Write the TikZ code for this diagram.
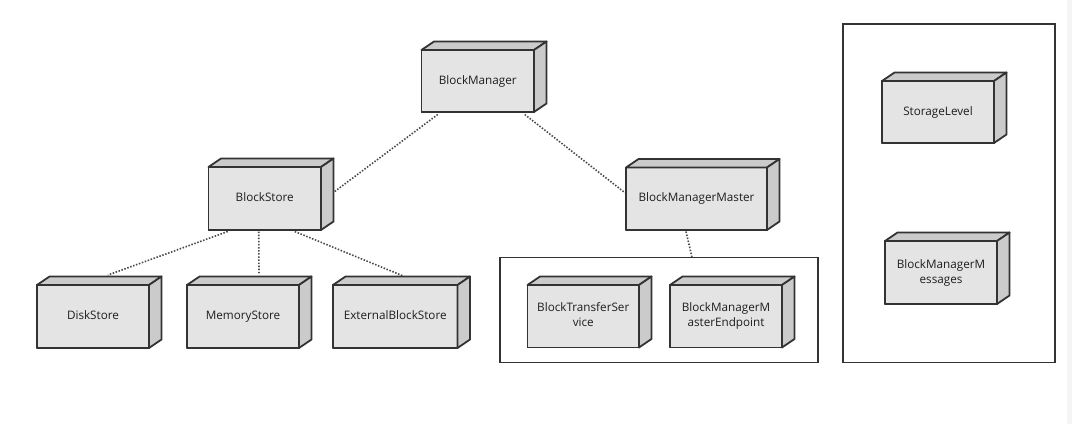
\documentclass[tikz,border=0pt]{standalone}
\usepackage{fontspec}
\setmainfont{Open Sans}
\usetikzlibrary{calc}
\definecolor{frontc}{HTML}{E4E4E4}
\definecolor{sidec}{HTML}{CBCBCB}
\definecolor{edgec}{HTML}{333333}
\definecolor{linkc}{HTML}{4A4A4A}
\definecolor{txtc}{HTML}{1E1E1E}
\tikzset{
  front/.style={draw=edgec, fill=frontc, line width=1.8pt, rectangle, outer sep=0pt,
    inner sep=0pt, align=center, text=txtc, font=\fontsize{11.7}{15}\selectfont,
    line join=round},
  sideface/.style={draw=edgec, fill=sidec, line width=1.8pt, line join=round},
  frame/.style={draw=edgec, line width=1.6pt, rectangle, outer sep=0pt, inner sep=0pt},
  link/.style={draw=linkc, line width=1.6pt, dash pattern=on 1.5pt off 1.6pt}
}
\newcommand\umlbox[6]{%
  \node[front, minimum width=#4pt, minimum height=#5pt] (#1) at (#2,#3) {\raisebox{-1.5pt}{\begin{tabular}{@{}c@{}}#6\end{tabular}}};
  \draw[sideface] (#1.north west) -- ($(#1.north west)+(12.5,-8.5)$) -- ($(#1.north east)+(12.5,-8.5)$) -- (#1.north east) -- cycle;
  \draw[sideface] (#1.north east) -- ($(#1.north east)+(12.5,-8.5)$) -- ($(#1.south east)+(12.5,-8.5)$) -- (#1.south east) -- cycle;
  \draw[draw=edgec, line width=1.8pt, line join=round] (#1.north west) rectangle (#1.south east);
}
\begin{document}
\begin{tikzpicture}[x=1pt, y=-1pt]
\useasboundingbox[fill=white] (0,0) rectangle (1072,424);
\fill[gray!8] (1067,0) rectangle (1072,424);

% containers
\node[frame, minimum width=318pt, minimum height=105pt] (grp) at (659,310) {};
\node[frame, minimum width=212pt, minimum height=338.5pt] (side) at (949,193.25) {};

% boxes
\umlbox{bm}{477.75}{81}{112.5}{62}{BlockManager}
\umlbox{bs}{264.75}{198.5}{112.5}{63}{BlockStore}
\umlbox{bmm}{696.5}{198.75}{141}{62.5}{BlockManagerMaster}
\umlbox{ds}{93}{316.5}{112}{63}{DiskStore}
\umlbox{ms}{243}{316.5}{112}{63}{MemoryStore}
\umlbox{ebs}{395.25}{316.5}{124.5}{63}{ExternalBlockStore}
\umlbox{bts}{583.25}{316.25}{111.5}{62.5}{BlockTransferSer\\vice}
\umlbox{bmme}{726}{316.25}{112}{62.5}{BlockManagerM\\asterEndpoint}
\umlbox{sl}{938}{112}{112}{62}{StorageLevel}
\umlbox{msg}{941}{272.5}{112}{63}{BlockManagerM\\essages}

% connectors
\draw[link] ($(bm.south)+(-40,2.5)$) -- ($(bs.east)+(13,-6.5)$);
\draw[link] ($(bm.south)+(47,2.5)$) -- ($(bmm.west)+(-1,-6)$);
\draw[link] ($(bs.south)+(-37,1.5)$) -- ($(ds.north)+(15,-10)$);
\draw[link] ($(bs.south)+(-6,1.5)$) -- ($(ms.north)+(16,-12)$);
\draw[link] ($(bs.south)+(30,1.5)$) -- ($(ebs.north)+(8,-9)$);
\draw[link] ($(bmm.south)+(-10.5,1.5)$) -- ($(grp.north)+(33,0)$);
\end{tikzpicture}
\end{document}
